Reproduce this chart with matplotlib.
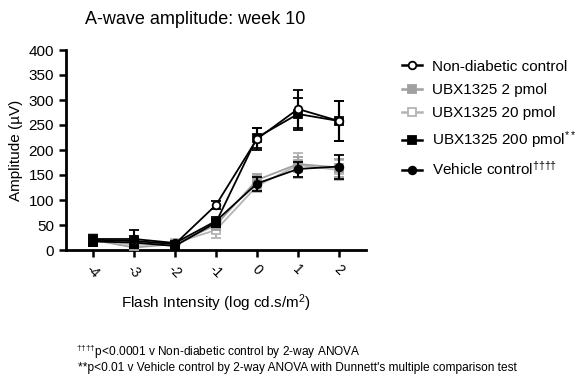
import matplotlib
matplotlib.use("Agg")
import matplotlib.pyplot as plt
from matplotlib.lines import Line2D
import numpy as np

plt.rcParams['font.family'] = ['Liberation Sans', 'DejaVu Sans']
plt.rcParams['mathtext.fontset'] = 'custom'
plt.rcParams['mathtext.rm'] = 'Liberation Sans'
plt.rcParams['mathtext.it'] = 'Liberation Sans'

x = [-4, -3, -2, -1, 0, 1, 2]
tick_labels = ['-4', '-3', '-2', '-1', '0', '1', '2']

nondiab = [20, 18, 12, 90, 222, 282, 258]
nondiab_err = [8, 10, 5, 8, 22, 38, 40]
ubx2 = [20, 5, 12, 50, 140, 172, 165]
ubx2_err = [10, 6, 6, 10, 12, 15, 18]
ubx20 = [22, 10, 14, 40, 128, 170, 160]
ubx20_err = [10, 6, 6, 15, 12, 25, 20]
ubx200 = [17, 15, 8, 55, 225, 272, 258]
ubx200_err = [8, 10, 5, 8, 20, 32, 40]
vehicle = [22, 22, 14, 58, 133, 162, 167]
vehicle_err = [8, 18, 5, 8, 14, 15, 24]

series = [
    ('Non-diabetic control', nondiab, nondiab_err, 'black', 'o', 'white', 5),
    ('UBX1325 2 pmol', ubx2, ubx2_err, '#a0a0a0', 's', None, 3),
    ('UBX1325 20 pmol', ubx20, ubx20_err, '#b4b4b4', 's', 'white', 2),
    ('UBX1325 200 pmol$^{**}$', ubx200, ubx200_err, 'black', 's', None, 4),
    ('Vehicle control$^{††††}$', vehicle, vehicle_err, 'black', 'o', None, 6),
]

fig = plt.figure(figsize=(5.87, 3.83), dpi=100)
ax = fig.add_axes([66/587, 1-250/383, 300/587, 200/383])

handles, labels = [], []
for lab, y, e, c, m, mfc, z in series:
    ax.errorbar(x, y, yerr=e, color=c, marker=m, markersize=5.5,
                markerfacecolor=(mfc if mfc else c), markeredgewidth=1.3,
                capsize=3.5, elinewidth=1.5, capthick=1.5, linewidth=1.3, zorder=z)
    handles.append(Line2D([], [], color=c, marker=m, markersize=5.5,
                          markerfacecolor=(mfc if mfc else c), markeredgewidth=1.3, linewidth=1.8))
    labels.append(lab)

ax.set_xlim(-4.66, 2.66)
ax.set_ylim(0, 400)
ax.set_yticks(np.arange(0, 401, 50))
ax.set_xticks(x)
ax.set_xticklabels(tick_labels, rotation=-45, ha='center', rotation_mode='default', fontsize=10)
ax.tick_params(axis='y', labelsize=11, width=1.8, length=5)
ax.tick_params(axis='x', width=1.8, length=5, pad=4)
for s in ['top', 'right']:
    ax.spines[s].set_visible(False)
for s in ['left', 'bottom']:
    ax.spines[s].set_linewidth(2)
ax.set_ylabel('Amplitude (µV)', fontsize=11)
ax.set_xlabel('Flash Intensity (log cd.s/m$^2$)', fontsize=11, labelpad=8)

fig.text(195/587, 1-19/383, 'A-wave amplitude: week 10', ha='center', va='center', fontsize=13)

fig.legend(handles, labels,
           loc='upper left', bbox_to_anchor=(388/587, 1-46/383), frameon=False,
           fontsize=11, handlelength=1.3, labelspacing=0.6, handletextpad=0.7)

fig.text(76/587, 1-352/383, '$^{††††}$p<0.0001 v Non-diabetic control by 2-way ANOVA',
         ha='left', va='center', fontsize=8.6)
fig.text(78/587, 1-368/383, '**p<0.01 v Vehicle control by 2-way ANOVA with Dunnett\'s multiple comparison test',
         ha='left', va='center', fontsize=8.6)

fig.savefig('out.png', dpi=100)
